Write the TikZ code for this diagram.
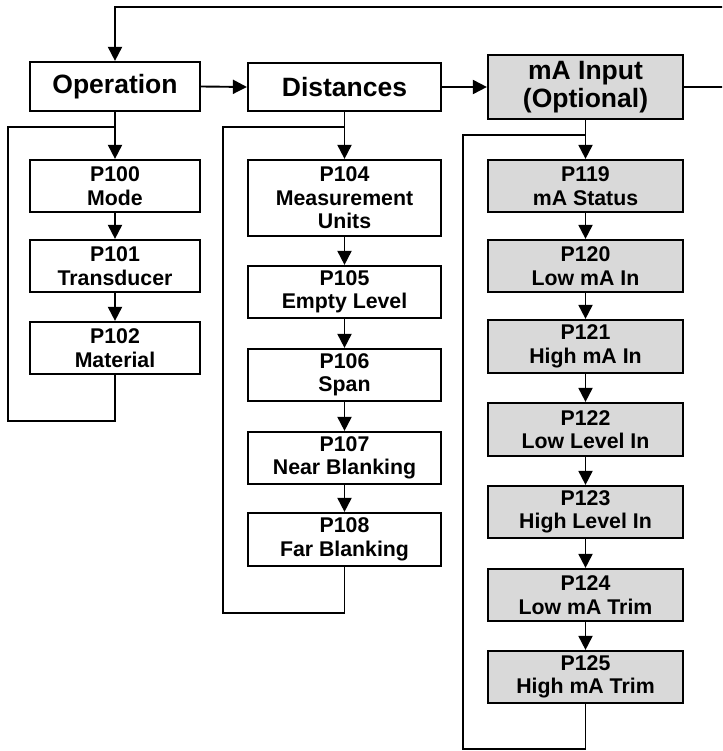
\documentclass[tikz,border=0pt]{standalone}
\usepackage{fontspec}
\setmainfont{Liberation Sans}
\usetikzlibrary{arrows.meta}
\definecolor{boxgray}{HTML}{D9D9D9}
\tikzset{
  hdr/.style={draw, line width=2.2pt, inner sep=0pt, align=center, font=\fontsize{26.5}{28.5}\selectfont\bfseries},
  par/.style={draw, line width=2.2pt, inner sep=0pt, align=center, font=\fontsize{21.3}{23.5}\selectfont\bfseries},
  grayfill/.style={fill=boxgray},
  conn/.style={line width=1.9pt},
  arr/.style={line width=1.9pt, -{Triangle[length=14pt,width=14pt]}},
}
\begin{document}
\begin{tikzpicture}[x=1pt,y=-1pt]
\useasboundingbox (0,0) rectangle (722,751);
\clip (0,0) rectangle (722,751);
% headers
\node[hdr, minimum width=170pt, minimum height=49pt] (op) at (115,86.5) {Operation};
\node[hdr, minimum width=193pt, minimum height=48pt] (di) at (344.5,87) {Distances};
\node[hdr, grayfill, minimum width=195pt, minimum height=64pt] (ma) at (585.5,87) {mA Input\\(Optional)};
% operation column
\node[par, minimum width=170pt, minimum height=52pt] (p100) at (115,186) {P100\\Mode};
\node[par, minimum width=170pt, minimum height=52pt] (p101) at (115,266) {P101\\Transducer};
\node[par, minimum width=170pt, minimum height=52pt] (p102) at (115,348) {P102\\Material};
% distances column
\node[par, minimum width=193pt, minimum height=76pt] (p104) at (344.5,198) {P104\\Measurement\\Units};
\node[par, minimum width=193pt, minimum height=52pt] (p105) at (344.5,292) {P105\\Empty Level};
\node[par, minimum width=193pt, minimum height=52pt] (p106) at (344.5,375) {P106\\Span};
\node[par, minimum width=193pt, minimum height=52pt] (p107) at (344.5,458) {P107\\Near Blanking};
\node[par, minimum width=193pt, minimum height=53pt] (p108) at (344.5,539.5) {P108\\Far Blanking};
% mA column
\node[par, grayfill, minimum width=195pt, minimum height=52pt] (p119) at (585.5,186) {P119\\mA Status};
\node[par, grayfill, minimum width=195pt, minimum height=52pt] (p120) at (585.5,266) {P120\\Low mA In};
\node[par, grayfill, minimum width=195pt, minimum height=53pt] (p121) at (585.5,346.5) {P121\\High mA In};
\node[par, grayfill, minimum width=195pt, minimum height=53pt] (p122) at (585.5,429.5) {P122\\Low Level In};
\node[par, grayfill, minimum width=195pt, minimum height=52pt] (p123) at (585.5,512) {P123\\High Level In};
\node[par, grayfill, minimum width=195pt, minimum height=52pt] (p124) at (585.5,595) {P124\\Low mA Trim};
\node[par, grayfill, minimum width=195pt, minimum height=52pt] (p125) at (585.5,677) {P125\\High mA Trim};
% coordinates
\coordinate (rt) at (726,87);
\coordinate (tl) at (115,7);
\coordinate (opB) at (8,421);
\coordinate (opJ) at (115,127);
\coordinate (diB) at (223,613);
\coordinate (diJ) at (344.5,127);
\coordinate (maB) at (463,749);
\coordinate (maJ) at (585.5,135);
% header connectors
\draw[arr] (op.east) -- (di.west);
\draw[arr] (di.east) -- (ma.west);
\draw[arr] (ma.east) -- (rt) |- (tl) -- (op.north);
% operation chain
\draw[arr] (op.south) -- (p100.north);
\draw[arr] (p100.south) -- (p101.north);
\draw[arr] (p101.south) -- (p102.north);
\draw[conn] (p102.south) |- (opB) |- (opJ);
% distances chain
\draw[arr] (di.south) -- (p104.north);
\draw[arr] (p104.south) -- (p105.north);
\draw[arr] (p105.south) -- (p106.north);
\draw[arr] (p106.south) -- (p107.north);
\draw[arr] (p107.south) -- (p108.north);
\draw[conn] (p108.south) |- (diB) |- (diJ);
% mA chain
\draw[arr] (ma.south) -- (p119.north);
\draw[arr] (p119.south) -- (p120.north);
\draw[arr] (p120.south) -- (p121.north);
\draw[arr] (p121.south) -- (p122.north);
\draw[arr] (p122.south) -- (p123.north);
\draw[arr] (p123.south) -- (p124.north);
\draw[arr] (p124.south) -- (p125.north);
\draw[conn] (p125.south) |- (maB) |- (maJ);
\end{tikzpicture}
\end{document}
